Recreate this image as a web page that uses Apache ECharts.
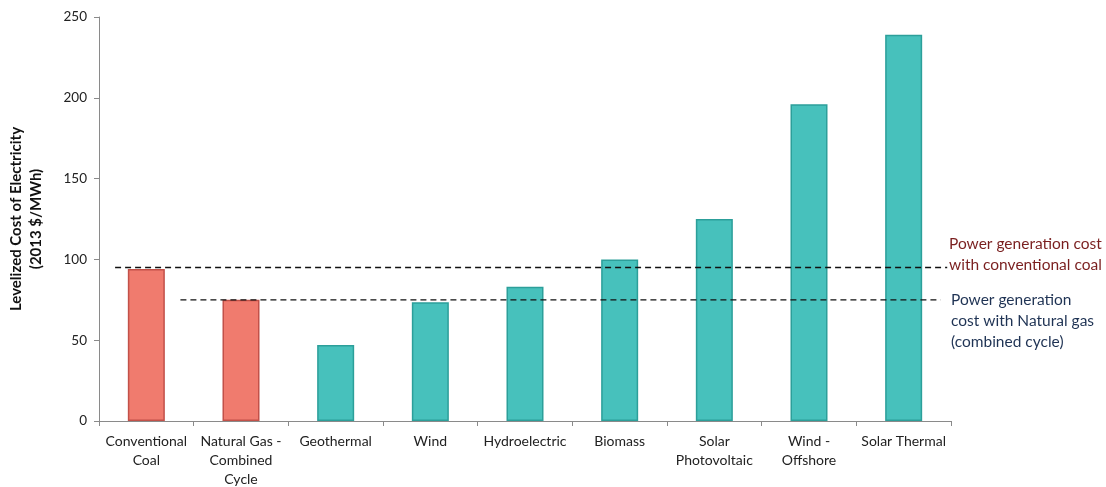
<!DOCTYPE html>
<html>
<head>
<meta charset="utf-8">
<script src="https://cdn.jsdelivr.net/npm/echarts@6/dist/echarts.min.js"></script>
<style>html,body{margin:0;padding:0;background:#fff}#c{width:1106px;height:487px}</style>
</head>
<body>
<div id="c"></div>
<script>
const categories = ["Conventional\nCoal", "Natural Gas -\nCombined\nCycle", "Geothermal", "Wind", "Hydroelectric", "Biomass", "Solar\nPhotovoltaic", "Wind -\nOffshore", "Solar Thermal"];
const costs = [94, 75, 47, 73.5, 83, 100, 125, 196, 239];
const fossil = [true, true, false, false, false, false, false, false, false];
const yTicks = [0, 50, 100, 150, 200, 250];
// reference lines: value, start and end measured in category-index units
const coalLine = { value: 95, from: -0.33, to: 8.46 };
const gasLine = { value: 75, from: 0.36, to: 8.39 };

const FONT = 'Lato';
const catW = (1106 - 99 - 155) / categories.length;
const x2max = -0.5 + (1106 - 99) / catW;

const chart = echarts.init(document.getElementById('c'));
chart.setOption({
  animation: false,
  textStyle: { fontFamily: FONT },
  grid: [
    { left: 99, right: 155, top: 17, bottom: 66, outerBoundsMode: 'none', containLabel: false },
    { left: 99, right: 0, top: 17, bottom: 66, outerBoundsMode: 'none', containLabel: false }
  ],
  xAxis: [
    {
      type: 'category', gridIndex: 0, data: categories,
      axisLine: { lineStyle: { color: '#8a8a8a', width: 1 } },
      axisTick: { show: true, length: 5, lineStyle: { color: '#8a8a8a' } },
      axisLabel: { color: '#222', fontSize: 14, lineHeight: 19, margin: 11, interval: 0, fontFamily: FONT },
      splitLine: { show: false }
    },
    { type: 'value', gridIndex: 1, min: -0.5, max: x2max, show: false }
  ],
  yAxis: [
    {
      type: 'value', gridIndex: 0, min: 0, max: 250, interval: 50,
      name: 'Levelized Cost of Electricity\n(2013 $/MWh)',
      nameLocation: 'middle', nameGap: 53, nameRotate: 90,
      nameTextStyle: { fontSize: 15, fontWeight: 'bold', color: '#111', lineHeight: 20, fontFamily: FONT },
      axisLine: { show: true, lineStyle: { color: '#8a8a8a', width: 1 } },
      axisTick: { show: true, length: 5, lineStyle: { color: '#8a8a8a' } },
      axisLabel: { color: '#222', fontSize: 13.5, margin: 12, fontFamily: FONT,
        formatter: v => yTicks.includes(v) ? String(v) : '' },
      splitLine: { show: false }
    },
    { type: 'value', gridIndex: 1, min: 0, max: 250, show: false }
  ],
  series: [
    {
      type: 'bar', xAxisIndex: 0, yAxisIndex: 0, barWidth: 37,
      data: costs.map((v, i) => ({
        value: v,
        itemStyle: fossil[i]
          ? { color: '#F07B6E', borderColor: '#C25149', borderWidth: 1.5 }
          : { color: '#47C1BC', borderColor: '#2C9F9A', borderWidth: 1.5 }
      }))
    },
    {
      type: 'line', xAxisIndex: 1, yAxisIndex: 1, symbol: 'none', z: 5,
      lineStyle: { color: '#111', width: 1.3, type: [6, 4] },
      data: [[coalLine.from, coalLine.value], [coalLine.to, coalLine.value]]
    },
    {
      type: 'line', xAxisIndex: 1, yAxisIndex: 1, symbol: 'none', z: 5,
      lineStyle: { color: '#111', width: 1.3, type: [6, 4] },
      data: [[gasLine.from, gasLine.value], [gasLine.to, gasLine.value]]
    }
  ],
  graphic: [
    { type: 'text', left: 949, top: 233, style: { text: 'Power generation cost\nwith conventional coal', fill: '#7A1F1F', font: '15.5px ' + FONT, lineHeight: 21 } },
    { type: 'text', left: 951, top: 289, style: { text: 'Power generation\ncost with Natural gas\n(combined cycle)', fill: '#1F3354', font: '15.5px ' + FONT, lineHeight: 21 } }
  ]
});
</script>
</body>
</html>
